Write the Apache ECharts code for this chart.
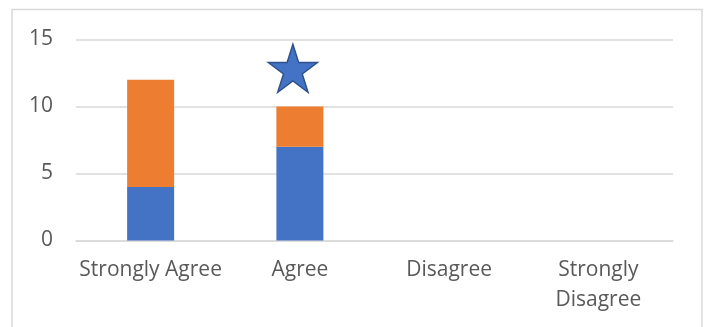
<!DOCTYPE html>
<html>
<head>
<meta charset="utf-8">
<script src="https://cdn.jsdelivr.net/npm/echarts@6/dist/echarts.min.js"></script>
<style>
  html, body { margin: 0; padding: 0; background: #fff; }
  #chart { width: 706px; height: 327px; }
</style>
</head>
<body>
<div id="chart"></div>
<script>
// Response categories and the two stacked series
const categories = ['Strongly Agree', 'Agree', 'Disagree', 'Strongly Disagree'];
const seriesBlue = [4, 7, 0, 0];
const seriesOrange = [8, 3, 0, 0];
const yTicks = { min: 0, max: 15, interval: 5 };

// Star marker placed above the "Agree" column
const starPoint = ['Agree', 12.85];

const STAR_PATH = 'path://M50,0 L61.8,36.2 L100,36.2 L69.1,58.6 L80.9,95 L50,72.6 L19.1,95 L30.9,58.6 L0,36.2 L38.2,36.2 Z';

const textColor = '#595959';
const gridColor = '#d9d9d9';
const fontFamily = '"Open Sans", Lato, sans-serif';

const chart = echarts.init(document.getElementById('chart'), null, { renderer: 'canvas' });

chart.setOption({
  animation: false,
  backgroundColor: '#fff',
  graphic: [{
    type: 'rect',
    shape: { x: 12, y: 9.5, width: 690, height: 340 },
    style: { fill: 'none', stroke: gridColor, lineWidth: 1.5 },
    silent: true,
    z: -1
  }],
  grid: { left: 76, right: 33, top: 39.5, bottom: 86.5 },
  xAxis: {
    type: 'category',
    data: categories,
    axisLine: { show: true, lineStyle: { color: gridColor, width: 1.5 } },
    axisTick: { show: false },
    axisLabel: {
      interval: 0,
      margin: 15,
      color: textColor,
      fontFamily: fontFamily,
      fontSize: 21,
      lineHeight: 30,
      formatter: v => (v.length > 15 ? v.replace(' ', '\n') : v)
    }
  },
  yAxis: {
    type: 'value',
    min: yTicks.min,
    max: yTicks.max,
    interval: yTicks.interval,
    axisLine: { show: false },
    axisTick: { show: false },
    splitLine: { lineStyle: { color: gridColor, width: 1.5 } },
    axisLabel: {
      margin: 23,
      color: textColor,
      fontFamily: fontFamily,
      fontSize: 21
    }
  },
  series: [
    {
      name: 'Series 1',
      type: 'bar',
      stack: 'total',
      barWidth: 47,
      itemStyle: { color: '#4472C4' },
      data: seriesBlue
    },
    {
      name: 'Series 2',
      type: 'bar',
      stack: 'total',
      barWidth: 47,
      itemStyle: { color: '#ED7D31' },
      data: seriesOrange
    },
    {
      name: 'Marker',
      type: 'scatter',
      symbol: STAR_PATH,
      symbolSize: [49, 48],
      symbolOffset: [-7, 0],
      itemStyle: { color: '#4472C4', borderColor: '#2F528F', borderWidth: 1.5, opacity: 1 },
      data: [starPoint],
      z: 5
    }
  ]
});
</script>
</body>
</html>
